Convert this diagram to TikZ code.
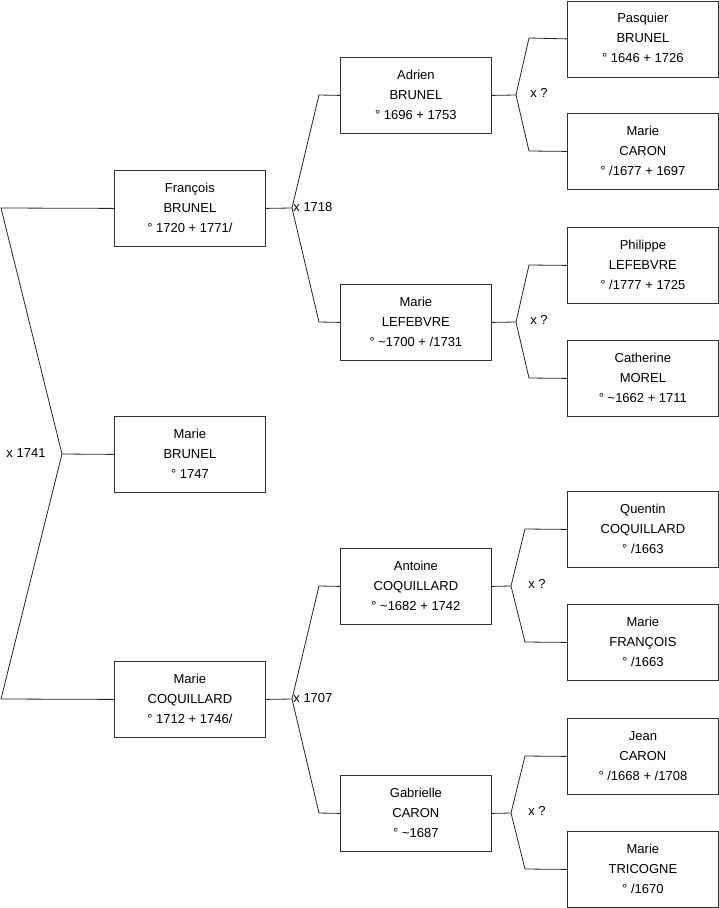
\documentclass[tikz,border=0pt]{standalone}
\usepackage{fontspec}
\setmainfont{Liberation Sans}
\newcommand{\pplines}[3]{\raisebox{2pt}{\begin{tabular}{@{}c@{}}#1\\#2\\#3\end{tabular}}}
\begin{document}
\begin{tikzpicture}[x=1pt,y=-1pt,line width=0.8pt,
  person/.style={draw=black!80, minimum width=151pt, minimum height=76pt,
    inner sep=0pt, anchor=north west,
    font=\fontsize{13}{20}\selectfont},
  link/.style={draw=black!85},
  lab/.style={inner sep=0pt, font=\fontsize{13}{15}\selectfont}]
\useasboundingbox (0,0) rectangle (719,908);
% generation 1
\node[person] (f1) at (114,170) {\pplines{François}{BRUNEL}{° 1720 + 1771/}};
\node[person] (f2) at (114,416) {\pplines{Marie}{BRUNEL}{° 1747}};
\node[person] (f3) at (114,661) {\pplines{Marie}{COQUILLARD}{° 1712 + 1746/}};
% generation 2
\node[person] (p1) at (340,57) {\pplines{Adrien}{BRUNEL}{° 1696 + 1753}};
\node[person] (p2) at (340,284) {\pplines{Marie}{LEFEBVRE}{° \textasciitilde1700 + /1731}};
\node[person] (p3) at (340,548) {\pplines{Antoine}{COQUILLARD}{° \textasciitilde1682 + 1742}};
\node[person] (p4) at (340,775) {\pplines{Gabrielle}{CARON}{° \textasciitilde1687}};
% generation 3
\node[person] (g1) at (567,0.5) {\pplines{Pasquier}{BRUNEL}{° 1646 + 1726}};
\node[person] (g2) at (567,113) {\pplines{Marie}{CARON}{° /1677 + 1697}};
\node[person] (g3) at (567,227) {\pplines{Philippe}{LEFEBVRE}{° /1777 + 1725}};
\node[person] (g4) at (567,340) {\pplines{Catherine}{MOREL}{° \textasciitilde1662 + 1711}};
\node[person] (g5) at (567,491) {\pplines{Quentin}{COQUILLARD}{° /1663}};
\node[person] (g6) at (567,604) {\pplines{Marie}{FRANÇOIS}{° /1663}};
\node[person] (g7) at (567,718) {\pplines{Jean}{CARON}{° /1668 + /1708}};
\node[person] (g8) at (567,831) {\pplines{Marie}{TRICOGNE}{° /1670}};
% couple f1 x f3
\coordinate (j0) at (62,454);
\coordinate (a0) at (1,208);
\coordinate (b0) at (1,699);
\draw[link] (f1.west) -- (a0) -- (j0) -- (b0) -- (f3.west);
\draw[link] (j0) -- (f2.west);
\node[lab] (l0) at (26,453) {x 1741};
% couple p1 x p2
\coordinate (j1) at (292,208);
\draw[link] (f1.east) -- (j1);
\draw[link] (p1.west) -- (319,95) -- (j1) -- (319,322) -- (p2.west);
\node[lab,anchor=west] (l1) at (293,207) {x 1718};
% couple p3 x p4
\coordinate (j2) at (292,699);
\draw[link] (f3.east) -- (j2);
\draw[link] (p3.west) -- (319,586) -- (j2) -- (319,813) -- (p4.west);
\node[lab,anchor=west] (l2) at (293,698) {x 1707};
% couple g1 x g2
\coordinate (k1) at (516,95);
\draw[link] (p1.east) -- (k1);
\draw[link] (g1.west) -- (529,38) -- (k1) -- (529,151) -- (g2.west);
\node[lab] (m1) at (539,93) {x ?};
% couple g3 x g4
\coordinate (k2) at (516,322);
\draw[link] (p2.east) -- (k2);
\draw[link] (g3.west) -- (529,265) -- (k2) -- (529,378) -- (g4.west);
\node[lab] (m2) at (539,320) {x ?};
% couple g5 x g6
\coordinate (k3) at (511,586);
\draw[link] (p3.east) -- (k3);
\draw[link] (g5.west) -- (525,529) -- (k3) -- (525,642) -- (g6.west);
\node[lab] (m3) at (537,584) {x ?};
% couple g7 x g8
\coordinate (k4) at (511,813);
\draw[link] (p4.east) -- (k4);
\draw[link] (g7.west) -- (525,756) -- (k4) -- (525,869) -- (g8.west);
\node[lab] (m4) at (537,811) {x ?};
\end{tikzpicture}
\end{document}
